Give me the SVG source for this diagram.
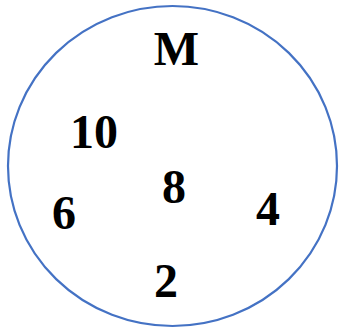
<svg xmlns="http://www.w3.org/2000/svg" width="345" height="333" viewBox="0 0 345 333">
<style>
.t{font-family:"Liberation Serif","Times New Roman",serif;font-weight:bold;font-size:48px;fill:#000;text-anchor:middle}
</style>
<rect width="345" height="333" fill="#fff"/>
<g id="set">
<ellipse cx="172.5" cy="166" rx="164.5" ry="160" fill="none" stroke="#4472C4" stroke-width="2.2"/>
</g>
<g id="labels">
<text class="t" x="176.5" y="65">M</text>
<text class="t" x="94" y="148">10</text>
<text class="t" x="174" y="203">8</text>
<text class="t" x="64" y="229">6</text>
<text class="t" x="268" y="225">4</text>
<text class="t" x="166" y="297">2</text>
</g>
</svg>
